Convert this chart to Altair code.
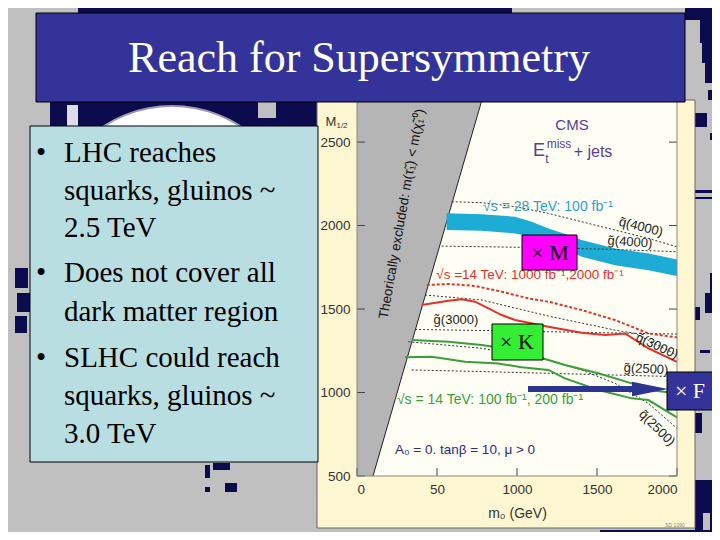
import json
import altair as alt
import pandas as pd

# ---------------- values ----------------
m0_ticks = [0, 500, 1000, 1500, 2000]
m0_tick_labels = ["0", "50", "1000", "1500", "2000"]
m12_ticks = [500, 1000, 1500, 2000, 2500]

excl_m12 = [500, 2770]
excl_edge_m0 = [100, 786]

band_m0 = [560, 779, 988, 1092, 1196, 1321, 1404, 1613, 1821, 2000]
band_hi = [2073, 2067, 2053, 2023, 1983, 1943, 1913, 1863, 1833, 1797]
band_lo = [1973, 1969, 1953, 1933, 1903, 1853, 1813, 1763, 1733, 1698]

sq4000_m0 = [592, 779, 988, 1196, 1404, 1613, 1821, 2000]
sq4000_m12 = [2143, 2137, 2113, 2073, 2023, 1973, 1923, 1873]
gl4000_m0 = [529, 800, 1196, 1600, 2000]
gl4000_m12 = [1877, 1873, 1867, 1857, 1843]
sq3000_m0 = [425, 779, 1196, 1613, 1738, 2000]
sq3000_m12 = [1584, 1554, 1458, 1374, 1354, 1225]
gl3000_m0 = [363, 800, 1196, 1600, 2000]
gl3000_m12 = [1378, 1371, 1364, 1357, 1350]
sq2500_m0 = [321, 779, 1196, 1404, 1613, 1821, 2000]
sq2500_m12 = [1304, 1265, 1195, 1135, 1055, 935, 785]
gl2500_m0 = [342, 800, 1196, 1600, 2000]
gl2500_m12 = [1135, 1125, 1115, 1105, 1095]

red_dash_m0 = [436, 571, 738, 904, 1071, 1196, 1404, 1613, 1821, 2000]
red_dash_m12 = [1644, 1650, 1638, 1604, 1564, 1544, 1494, 1434, 1354, 1330]
red_solid_m0 = [404, 571, 654, 738, 821, 904, 988, 1196, 1404, 1550, 1675, 1821, 2000]
red_solid_m12 = [1524, 1550, 1558, 1544, 1504, 1464, 1434, 1394, 1358, 1344, 1354, 1265, 1184]
green_hi_m0 = [342, 571, 779, 988, 1092, 1196, 1300, 1508, 1717, 1821, 2000]
green_hi_m12 = [1314, 1304, 1284, 1254, 1225, 1195, 1165, 1115, 1055, 1015, 995]
green_lo_m0 = [300, 467, 675, 883, 1029, 1196, 1300, 1508, 1717, 1821, 2000]
green_lo_m12 = [1211, 1214, 1184, 1174, 1151, 1135, 1085, 1015, 965, 955, 851]

title_text = "Reach for Supersymmetry"
bullet_lines = ["LHC reaches", "squarks, gluinos ~", "2.5 TeV",
                "Does not cover all", "dark matter region",
                "SLHC could reach", "squarks, gluinos ~", "3.0 TeV"]
bullet_starts = [0, 3, 5]

# ---------------- layout (page pixels) ----------------
PX0, PY0, W, H = 357, 97, 320, 379          # plot area origin / size on the page
M0_DOMAIN = [0, 2000]
M12_DOMAIN = [500, 2770]


def rx(v):
    return v - PX0


def ry(v):
    return v - PY0


NAVY = "#0b0b4e"
SLIDE_GRAY = "#c0c0c0"
PURPLE = "#56409a"
CYAN = "#2aa3cc"
RED = "#e8302a"
GREEN = "#3a9e3a"
NAVYTXT = "#2b2b8a"
DARK = "#222222"

bg_blocks = [
    (78, 0, 392, 14, NAVY), (392, 6, 512, 14, NAVY),
    (685, 0, 720, 20, NAVY), (700, 20, 720, 43, NAVY), (702, 43, 720, 63, NAVY),
    (705, 63, 713, 83, NAVY), (708, 90, 720, 100, NAVY), (695, 113, 707, 127, NAVY),
    (710, 133, 720, 140, NAVY), (695, 190, 720, 193, NAVY), (695, 197, 720, 199, NAVY),
    (715, 213, 720, 227, NAVY), (710, 273, 720, 293, NAVY), (705, 293, 715, 313, NAVY),
    (695, 307, 700, 320, NAVY), (713, 320, 720, 340, NAVY), (700, 350, 710, 353, NAVY),
    (695, 413, 702, 433, NAVY), (713, 430, 720, 453, NAVY), (695, 480, 720, 513, NAVY),
    (695, 513, 703, 540, NAVY), (710, 513, 720, 540, NAVY), (600, 530, 720, 540, NAVY),
    (50, 102, 320, 126, NAVY), (258, 102, 276, 118, SLIDE_GRAY), (67, 105, 78, 126, "#dcdcea"),
    (15, 268, 28, 288, NAVY), (17, 293, 30, 312, NAVY), (15, 316, 27, 333, NAVY),
    (205, 465, 210, 478, NAVY), (213, 463, 230, 470, NAVY), (225, 483, 237, 492, NAVY),
    (205, 487, 210, 492, NAVY), (115, 532, 125, 537, NAVY), (133, 537, 138, 540, NAVY),
]

figure_box = [(317, 100, 695, 528, "#fff7d2", "#666666", 1)]
front_boxes = [
    (522, 235, 577, 270, "#ff00ff", "#000000", 1),
    (492, 324, 543, 360, "#33ee33", "#000000", 1),
]
f_box = [(667, 372, 714, 410, "#333399", "#000000", 1)]
slide_boxes = [
    (30, 126, 318, 462, "#b9dee2", "#000000", 1),
    (36, 13, 685, 102, "#333399", "#000000", 1),
]

plot_texts = [
    ("CMS", 572, 125, 15, PURPLE, 0),
    ("E", 539, 151, 18, PURPLE, 0),
    ("miss", 559, 144, 12, PURPLE, 0),
    ("t", 547, 159, 12, PURPLE, 0),
    ("+ jets", 593, 152, 16, PURPLE, 0),
    ("\u221as = 28 TeV: 100 fb\u207b\u00b9", 548, 207, 14, CYAN, 0),
    ("\u221as =14 TeV: 1000 fb\u207b\u00b9,2000 fb\u207b\u00b9", 530, 275, 13.5, RED, 0),
    ("\u221as = 14 TeV: 100 fb\u207b\u00b9, 200 fb\u207b\u00b9", 490, 400, 14, GREEN, 0),
    ("A\u2080 = 0. tan\u03b2 = 10, \u03bc > 0", 465, 450, 13.5, NAVYTXT, 0),
    ("q\u0303(4000)", 641, 227, 13, DARK, 14),
    ("g\u0303(4000)", 630, 242, 13, DARK, 4),
    ("g\u0303(3000)", 456, 320, 13, DARK, 0),
    ("q\u0303(3000)", 657, 346, 13, DARK, 25),
    ("g\u0303(2500)", 646, 369, 13, DARK, 3),
    ("q\u0303(2500)", 657, 428, 13, DARK, 45),
    ("Theorically excluded: m(\u03c4\u0303\u2081) < m(\u03c7\u0303\u2081\u2070)", 402, 214, 13.5, "#111111", 280),
    ("M", 331, 122, 13, "#333333", 0),
    ("1/2", 342, 126, 8, "#333333", 0),
    ("SD 1090", 675, 525, 5, "#888888", 0),
]
box_texts = [
    ("\u00d7 M", 550, 253, 22, "#000000", 0),
    ("\u00d7 K", 517, 342, 22, "#000000", 0),
    ("\u00d7 F", 690, 391, 22, "#ffffff", 0),
]
bullet_baselines = [162, 200, 237, 282, 321, 367, 405, 443]

# ---------------- scales / axes ----------------
xscale = alt.Scale(domain=M0_DOMAIN, nice=False, zero=False)
yscale = alt.Scale(domain=M12_DOMAIN, nice=False, zero=False)
x_label_expr = f"{json.dumps(m0_tick_labels)}[indexof({json.dumps(m0_ticks)}, datum.value)]"
xaxis = alt.Axis(values=m0_ticks, labelExpr=x_label_expr, ticks=False, tickSize=0, domain=False,
                 grid=False, labelFont="Liberation Sans", labelFontSize=13.5, labelColor="#333333",
                 labelPadding=6, title="m\u2080 (GeV)", titleFont="Liberation Sans", titleFontSize=14,
                 titleFontWeight="normal", titleColor="#333333", titlePadding=11, zindex=1)
yaxis = alt.Axis(values=m12_ticks, format="d", ticks=False, tickSize=0, domain=False, grid=False,
                 labelFont="Liberation Sans", labelFontSize=13.5, labelColor="#333333",
                 labelPadding=7, title=None, zindex=1)


def X(field):
    return alt.X(field, type="quantitative", scale=xscale, axis=xaxis)


def Y(field):
    return alt.Y(field, type="quantitative", scale=yscale, axis=yaxis)


def PXX(field):
    return alt.X(field, type="quantitative", scale=None, axis=None)


def PXY(field):
    return alt.Y(field, type="quantitative", scale=None, axis=None)


def rect_layer(rows):
    df = pd.DataFrame([{"x1": rx(a), "y1": ry(b), "x2": rx(c), "y2": ry(d), "fill": f,
                        "stroke": s, "sw": w} for a, b, c, d, f, s, w in rows])
    return alt.Chart(df).mark_rect().encode(
        x=PXX("x1"), x2=alt.X2("x2"), y=PXY("y1"), y2=alt.Y2("y2"),
        fill=alt.Fill("fill:N", scale=None, legend=None),
        stroke=alt.Stroke("stroke:N", scale=None, legend=None),
        strokeWidth=alt.StrokeWidth("sw:Q", scale=None, legend=None))


def text_layer(rows, font, align="center", baseline="middle"):
    df = pd.DataFrame([{"x": rx(x), "y": ry(y), "t": t, "s": s, "c": c, "a": a}
                       for t, x, y, s, c, a in rows])
    return alt.Chart(df).mark_text(font=font, align=align, baseline=baseline).encode(
        x=PXX("x"), y=PXY("y"), text="t:N",
        size=alt.Size("s:Q", scale=None, legend=None),
        color=alt.Color("c:N", scale=None, legend=None),
        angle=alt.Angle("a:Q", scale=None, legend=None))


def curve_df(pairs):
    rows = []
    for name, xs, ys in pairs:
        for i, (a, b) in enumerate(zip(xs, ys)):
            rows.append({"curve": name, "i": i, "m0": a, "m12": b})
    return pd.DataFrame(rows)


# ---------------- layers ----------------
bg_rects = [(a, b, c, d, f, "transparent", 0) for a, b, c, d, f in bg_blocks]
bg_layer = rect_layer(bg_rects)

circle_layer = alt.Chart(pd.DataFrame([{"x": rx(172), "y": ry(232)}])).mark_point(
    shape="circle", filled=True, size=63500, color="#ffffff", opacity=1,
    stroke="#9a9ab8", strokeWidth=2).encode(x=PXX("x"), y=PXY("y"))

figure_layer = rect_layer(figure_box)

inner_df = pd.DataFrame([{"x1": M0_DOMAIN[0], "x2": M0_DOMAIN[1], "y1": M12_DOMAIN[0], "y2": M12_DOMAIN[1]}])
inner_layer = alt.Chart(inner_df).mark_rect(color="#fffef4").encode(
    x=X("x1"), x2=alt.X2("x2"), y=Y("y1"), y2=alt.Y2("y2"))

excl_df = pd.DataFrame({"m12": excl_m12, "lo": [0, 0], "edge": excl_edge_m0})
excl_layer = alt.Chart(excl_df).mark_area(orient="horizontal", color="#b5b5b5").encode(
    y=Y("m12"), x=X("lo"), x2=alt.X2("edge"))
excl_edge_layer = alt.Chart(excl_df).mark_line(color="#222222", strokeWidth=1).encode(
    x=X("edge"), y=Y("m12"))

band_df = pd.DataFrame({"m0": band_m0, "hi": band_hi, "lo": band_lo})
band_layer = alt.Chart(band_df).mark_area(color="#1cacd6").encode(
    x=X("m0"), y=Y("hi"), y2=alt.Y2("lo"))

dotted_df = curve_df([("sq4000", sq4000_m0, sq4000_m12), ("gl4000", gl4000_m0, gl4000_m12),
                      ("sq3000", sq3000_m0, sq3000_m12), ("gl3000", gl3000_m0, gl3000_m12),
                      ("sq2500", sq2500_m0, sq2500_m12), ("gl2500", gl2500_m0, gl2500_m12)])
dotted_layer = alt.Chart(dotted_df).mark_line(color="#333333", strokeWidth=1, strokeDash=[2, 2]).encode(
    x=X("m0"), y=Y("m12"), detail="curve:N", order="i:Q")

red_dash_layer = alt.Chart(curve_df([("rd", red_dash_m0, red_dash_m12)])).mark_line(
    color=RED, strokeWidth=2, strokeDash=[3, 2]).encode(x=X("m0"), y=Y("m12"), order="i:Q")
red_solid_layer = alt.Chart(curve_df([("rs", red_solid_m0, red_solid_m12)])).mark_line(
    color=RED, strokeWidth=2).encode(x=X("m0"), y=Y("m12"), order="i:Q")
green_layer = alt.Chart(curve_df([("gh", green_hi_m0, green_hi_m12), ("gl", green_lo_m0, green_lo_m12)])).mark_line(
    color=GREEN, strokeWidth=2).encode(x=X("m0"), y=Y("m12"), detail="curve:N", order="i:Q")

ytick_df = pd.DataFrame({"v": m12_ticks})
xtick_df = pd.DataFrame({"v": m0_ticks})
ytick_left = alt.Chart(ytick_df).mark_rule(color="#444444", strokeWidth=1).encode(
    y=Y("v"), x=alt.value(0), x2=alt.value(8))
ytick_right = alt.Chart(ytick_df).mark_rule(color="#444444", strokeWidth=1).encode(
    y=Y("v"), x=alt.value(W - 8), x2=alt.value(W))
xtick_bottom = alt.Chart(xtick_df).mark_rule(color="#444444", strokeWidth=1).encode(
    x=X("v"), y=alt.value(H), y2=alt.value(H - 8))
frame_layer = alt.Chart(inner_df).mark_rect(fillOpacity=0, stroke="#888888", strokeWidth=1).encode(
    x=X("x1"), x2=alt.X2("x2"), y=Y("y1"), y2=alt.Y2("y2"))

plot_text_layer = text_layer(plot_texts, "Liberation Sans")
mk_layer = rect_layer(front_boxes)

arrow_df = pd.DataFrame([{"x1": rx(528), "x2": rx(640), "y": ry(389), "hx": rx(650)}])
arrow_shaft = alt.Chart(arrow_df).mark_rule(color="#2b3590", strokeWidth=6).encode(
    x=PXX("x1"), x2=alt.X2("x2"), y=PXY("y"))
arrow_head = alt.Chart(arrow_df).mark_point(
    shape="M-1,-0.4L1,0L-1,0.4Z", filled=True, size=1296, color="#2b3590", opacity=1).encode(
    x=PXX("hx"), y=PXY("y"))

f_layer = rect_layer(f_box)
slide_box_layer = rect_layer(slide_boxes)
box_text_layer = text_layer(box_texts, "Liberation Serif")
title_layer = text_layer([(title_text, 359, 72, 44, "#ffffff", 0)], "Liberation Serif",
                         baseline="alphabetic")
bullet_rows = [(t, 64, b, 29, "#000000", 0) for t, b in zip(bullet_lines, bullet_baselines)]
bullet_layer = text_layer(bullet_rows, "Liberation Serif", align="left", baseline="alphabetic")
dot_rows = [("\u2022", 41, bullet_baselines[i], 29, "#000000", 0) for i in bullet_starts]
dot_layer = text_layer(dot_rows, "Liberation Serif", baseline="alphabetic")

chart = alt.layer(
    bg_layer, circle_layer, figure_layer, inner_layer, excl_layer, excl_edge_layer,
    band_layer, dotted_layer, red_dash_layer, red_solid_layer, green_layer,
    ytick_left, ytick_right, xtick_bottom, frame_layer, plot_text_layer,
    mk_layer, arrow_shaft, arrow_head, f_layer, box_text_layer,
    slide_box_layer, title_layer, bullet_layer, dot_layer,
).properties(
    width=W, height=H,
    padding={"left": PX0 - 8, "top": PY0 - 8, "right": 704 - (PX0 - 8) - W,
             "bottom": 524 - (PY0 - 8) - H},
    autosize=alt.AutoSizeParams(type="none"),
    background=SLIDE_GRAY,
).configure_view(strokeWidth=0)

chart.save("out.html", embed_options={"renderer": "svg", "actions": False})
